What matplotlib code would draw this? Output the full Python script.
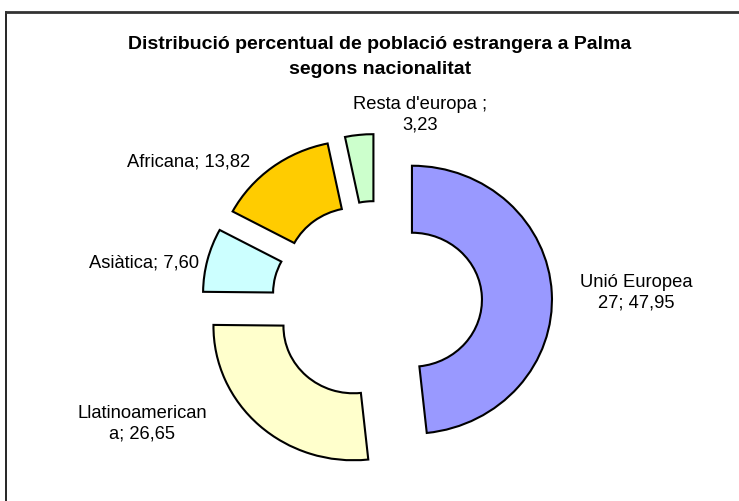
import matplotlib
matplotlib.use("Agg")
import matplotlib.pyplot as plt

# data
categories = ["Unió Europea 27", "Llatinoamericana", "Asiàtica", "Africana", "Resta d'europa"]
values = [47.95, 26.65, 7.60, 13.82, 3.23]
# label text as shown in the chart (Excel wraps some of them)
label_texts = ["Unió Europea\n27; 47,95", "Llatinoamerican\na; 26,65",
               "Asiàtica; 7,60", "Africana; 13,82", "Resta d'europa ;\n3,23"]
colors = ["#9999FF", "#FFFFCC", "#CCFFFF", "#FFCC00", "#CCFFCC"]

plt.rcParams["font.family"] = ["Liberation Sans", "DejaVu Sans"]

W, H = 739, 502
SY = 0.957  # the original donut is slightly squashed vertically
fig = plt.figure(figsize=(W / 100, H / 100), dpi=100)
ax = fig.add_axes([0, 0, 1, 1])


def py(y):
    # pixel row (from top) -> data y
    return (H - y) / SY


cx, cy = 377, py(302.5)
r_out, r_in = 140, 70
ax.pie(values, colors=colors, startangle=90, counterclock=False,
       center=(cx, cy), radius=r_out, explode=[35] * len(values),
       wedgeprops=dict(width=r_out - r_in, edgecolor="black", linewidth=1.5),
       frame=True)

ax.set_xlim(0, W)
ax.set_ylim(0, H / SY)
ax.set_aspect("auto")
ax.axis("off")

# labels (placed like Excel did)
label_pos = [(636, 293), (142, 424), (144, 263), (189, 162), (420, 115)]
for txt, (lx, ly) in zip(label_texts, label_pos):
    ax.text(lx, py(ly), txt, ha="center", va="center", fontsize=13.2,
            linespacing=1.3, color="black")

ax.text(380, py(57), "Distribució percentual de població estrangera a Palma\nsegons nacionalitat",
        ha="center", va="center", fontsize=14, fontweight="bold", linespacing=1.55)

# chart area border
ax.plot([6, 6], [0, py(13)], color="black", linewidth=1.2, clip_on=False)
ax.plot([6, W], [py(13), py(13)], color="#333333", linewidth=2, clip_on=False)

fig.savefig("out.png", dpi=100)
